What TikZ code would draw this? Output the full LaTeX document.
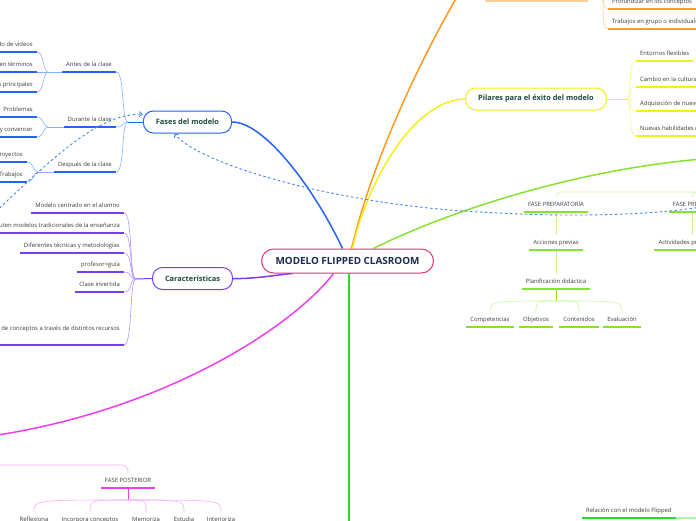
\documentclass[tikz,border=0pt]{standalone}
\usepackage{fontspec}
\setmainfont{Open Sans}
\usetikzlibrary{arrows.meta,positioning,backgrounds}

\definecolor{txtgray}{HTML}{3C3C3C}
\definecolor{topictxt}{HTML}{1D4B3C}
\definecolor{roottxt}{HTML}{1C2B4F}
\definecolor{rootline}{HTML}{E3336A}
\definecolor{fasesblue}{HTML}{2563F5}
\definecolor{fasesthin}{HTML}{8AAEFF}
\definecolor{carpurple}{HTML}{7A3CF0}
\definecolor{carthin}{HTML}{B494FF}
\definecolor{pilyellow}{HTML}{F0F020}
\definecolor{pilthin}{HTML}{F6F690}
\definecolor{orangeln}{HTML}{FF9A1E}
\definecolor{orangethin}{HTML}{FFCF96}
\definecolor{limeln}{HTML}{86E22E}
\definecolor{limethin}{HTML}{C9F3A4}
\definecolor{greenln}{HTML}{22E022}
\definecolor{greenthin}{HTML}{A8F5A8}
\definecolor{magln}{HTML}{EE3FEE}
\definecolor{magthin}{HTML}{F6ACF6}
\definecolor{dashblue}{HTML}{3F86F0}

\newcommand{\leaffont}{\fontsize{5.9}{7}\selectfont}

\begin{document}
\begin{tikzpicture}[x=1pt, y=-1pt,
    rootbox/.style={draw=rootline, fill=white, rounded corners=12pt, line width=1pt, minimum height=24pt, inner xsep=14pt, text=roottxt, font=\fontsize{9.9}{11}\selectfont\bfseries},
    topicbox/.style={draw=#1, fill=white, rounded corners=10pt, line width=1pt, minimum height=22pt, inner xsep=12.5pt, text=topictxt, font=\fontsize{7.4}{9}\selectfont\bfseries},
    leaf/.style={font=\leaffont, text=txtgray, inner xsep=4pt, inner ysep=4.3pt, text height=4.4pt, text depth=1.3pt,
        append after command={(\tikzlastnode.south west) edge[draw=#1, line width=1.7pt] (\tikzlastnode.south east)}},
    branch/.style={draw=#1, line width=1.5pt},
    conn/.style={draw=#1, line width=0.6pt},
    relation/.style={draw=dashblue, line width=0.9pt, dash pattern=on 2.5pt off 2.5pt, -{Straight Barb[length=3pt,width=5pt]}}]
    \useasboundingbox (0,0) rectangle (696,520);

    % Central topic
    \node[rootbox] (model) at (347.5,261) {MODELO FLIPPED CLASROOM};

    % Main topics
    \node[topicbox=fasesblue] (fases) at (187.5,122) {Fases del modelo};
    \node[topicbox=carpurple] (caract) at (192.5,278.5) {Características};
    \node[topicbox=pilyellow] (pilares) at (536,99) {Pilares para el éxito del modelo};

    % Topics outside the frame
    \coordinate (orangeT) at (470,-25);
    \coordinate (limeT) at (730,157);
    \coordinate (greenT) at (349,560);
    \coordinate (magT) at (-40,440);

    % Fases del modelo
    \node[leaf=fasesblue, anchor=south east] (antes) at (116,72) {Antes de la clase};
    \node[leaf=fasesblue, anchor=south east] (durante) at (116,127) {Durante la clase};
    \node[leaf=fasesblue, anchor=south east] (despues) at (116,172) {Después de la clase};
    \node[leaf=fasesblue, anchor=south east] (videos) at (37,52) {Visionado de videos};
    \node[leaf=fasesblue, anchor=south east] (terminos) at (37,72) {Investigación en términos};
    \node[leaf=fasesblue, anchor=south east] (ideas) at (37,92) {Ideas principales};
    \node[leaf=fasesblue, anchor=south east] (problemas) at (37,117) {Problemas};
    \node[leaf=fasesblue, anchor=south east] (convencer) at (37,137) {Argumentar y convencer};
    \node[leaf=fasesblue, anchor=south east] (proyectos) at (27,162) {Proyectos};
    \node[leaf=fasesblue, anchor=south east] (trabajos) at (27,182) {Trabajos};
    \coordinate (fasesJ) at (128,122);
    \coordinate (antesJ) at (48,72);
    \coordinate (duranteJ) at (48,127);
    \coordinate (despuesJ) at (38,172);

    % Caracteristicas
    \node[leaf=carpurple, anchor=south east] (car1) at (124,213) {Modelo centrado en el alumno};
    \node[leaf=carpurple, anchor=south east] (car2) at (124,233) {Se discuten modelos tradicionales de la enseñanza};
    \node[leaf=carpurple, anchor=south east] (car3) at (124,253) {Diferentes técnicas y metodologías};
    \node[leaf=carpurple, anchor=south east] (car4) at (124,272) {profesor=guía};
    \node[leaf=carpurple, anchor=south east] (car5) at (124,292) {Clase invertida};
    \node[leaf=carpurple, anchor=south east, text depth=12pt, inner ysep=2.5pt] (car6) at (124,345) {Adquisición de conceptos a través de distintos recursos};
    \coordinate (caractJ) at (136,279);

    % Pilares
    \node[leaf=pilyellow, anchor=south west] (pil1) at (636,61) {Entornos flexibles};
    \node[leaf=pilyellow, anchor=south west] (pil2) at (636,87) {Cambio en la cultura de aprendizaje};
    \node[leaf=pilyellow, anchor=south west] (pil3) at (636,111) {Adquisición de nuevos roles};
    \node[leaf=pilyellow, anchor=south west] (pil4) at (636,136) {Nuevas habilidades docentes};
    \coordinate (pilaresJ) at (626,99);

    % Orange branch
    \node[leaf=orangeln, anchor=south west] (prof) at (608,9) {Profundizar en los conceptos};
    \node[leaf=orangeln, anchor=south west] (grupo) at (608,29) {Trabajos en grupo o individuales};
    \coordinate (orangeJ) at (603,-15);
    \coordinate (orangeA) at (485,1);
    \coordinate (orangeB) at (588,1);

    % Lime branch
    \node[leaf=limeln, anchor=south] (fprep) at (556,212) {FASE PREPARATORIA};
    \node[leaf=limeln, anchor=south] (fpres) at (697,212) {FASE PRESENCIAL};
    \node[leaf=limeln, anchor=south] (acciones) at (556,250) {Acciones previas};
    \node[leaf=limeln, anchor=south] (activ) at (692,250) {Actividades presenciales};
    \node[leaf=limeln, anchor=south] (plan) at (556,289) {Planificación didáctica};
    \node[leaf=limeln, anchor=south] (compet) at (490,327) {Competencias};
    \node[leaf=limeln, anchor=south] (objet) at (536,327) {Objetivos};
    \node[leaf=limeln, anchor=south] (conten) at (579,327) {Contenidos};
    \node[leaf=limeln, anchor=south] (evalua) at (622,327) {Evaluación};
    \coordinate (limeJ) at (760,192);
    \coordinate (planJ) at (556,301);

    % Magenta branch
    \node[leaf=magln, anchor=south] (fpost) at (128,488) {FASE POSTERIOR};
    \node[leaf=magln, anchor=south] (reflex) at (34,527) {Reflexiona};
    \node[leaf=magln, anchor=south] (incorp) at (90,527) {Incorpora conceptos};
    \node[leaf=magln, anchor=south] (memor) at (146,527) {Memoriza};
    \node[leaf=magln, anchor=south] (estud) at (184,527) {Estudia};
    \node[leaf=magln, anchor=south] (interi) at (221,527) {Interioriza};
    \coordinate (magJ) at (-30,465);
    \coordinate (fpostJ) at (128,500);

    % Green branch
    \node[leaf=greenln, anchor=south west] (relacion) at (582,518) {Relación con el modelo Flipped};
    \coordinate (greenJ) at (720,518);

    \begin{pgfonlayer}{background}
        % main branches
        \draw[branch=fasesblue] ([xshift=-5pt]model.north) .. controls (315,190) and (265,122) .. (fases.east);
        \draw[branch=orangeln] ([xshift=4pt]model.north) .. controls (375,150) and (430,40) .. (orangeT);
        \draw[branch=pilyellow] ([xshift=5pt]model.north) .. controls (365,190) and (410,100) .. (pilares.west);
        \draw[branch=limeln] ([xshift=26pt]model.north) .. controls (440,215) and (580,165) .. (limeT);
        \draw[branch=greenln] ([xshift=1.5pt]model.south) -- (greenT);
        \draw[branch=magln] ([xshift=-14pt]model.south) .. controls (290,330) and (150,420) .. (magT);
        \draw[branch=carpurple] (caract.east) .. controls (255,279) and (275,275) .. ([xshift=-55pt]model.south);

        % fases connectors
        \draw[draw=fasesblue, line width=1pt] (fases.west) -- (fasesJ);
        \draw[conn=fasesthin] (fasesJ) .. controls +(-7,0) and +(9,0) .. (antes.south east);
        \draw[conn=fasesthin] (fasesJ) .. controls +(-7,0) and +(9,0) .. (durante.south east);
        \draw[conn=fasesthin] (fasesJ) .. controls +(-7,0) and +(9,0) .. (despues.south east);
        \draw[conn=fasesthin] (antes.south west) -- (antesJ);
        \draw[conn=fasesthin] (antesJ) .. controls +(-5,0) and +(7,0) .. (videos.south east);
        \draw[conn=fasesthin] (antesJ) -- (terminos.south east);
        \draw[conn=fasesthin] (antesJ) .. controls +(-5,0) and +(7,0) .. (ideas.south east);
        \draw[conn=fasesthin] (durante.south west) -- (duranteJ);
        \draw[conn=fasesthin] (duranteJ) .. controls +(-5,0) and +(7,0) .. (problemas.south east);
        \draw[conn=fasesthin] (duranteJ) .. controls +(-5,0) and +(7,0) .. (convencer.south east);
        \draw[conn=fasesthin] (despues.south west) -- (despuesJ);
        \draw[conn=fasesthin] (despuesJ) .. controls +(-5,0) and +(7,0) .. (proyectos.south east);
        \draw[conn=fasesthin] (despuesJ) .. controls +(-5,0) and +(7,0) .. (trabajos.south east);

        % caracteristicas connectors
        \draw[draw=carpurple, line width=1pt] (caract.west) -- (caractJ);
        \draw[conn=carthin] (caractJ) .. controls +(-7,0) and +(9,0) .. (car1.south east);
        \draw[conn=carthin] (caractJ) .. controls +(-7,0) and +(9,0) .. (car2.south east);
        \draw[conn=carthin] (caractJ) .. controls +(-7,0) and +(9,0) .. (car3.south east);
        \draw[conn=carthin] (caractJ) .. controls +(-7,0) and +(9,0) .. (car4.south east);
        \draw[conn=carthin] (caractJ) .. controls +(-7,0) and +(9,0) .. (car5.south east);
        \draw[conn=carthin] (caractJ) .. controls +(-7,0) and +(9,0) .. (car6.south east);

        % pilares connectors
        \draw[draw=pilyellow, line width=1pt] (pilares.east) -- (pilaresJ);
        \draw[conn=pilthin] (pilaresJ) .. controls +(7,0) and +(-9,0) .. (pil1.south west);
        \draw[conn=pilthin] (pilaresJ) .. controls +(7,0) and +(-9,0) .. (pil2.south west);
        \draw[conn=pilthin] (pilaresJ) .. controls +(7,0) and +(-9,0) .. (pil3.south west);
        \draw[conn=pilthin] (pilaresJ) .. controls +(7,0) and +(-9,0) .. (pil4.south west);

        % orange connectors
        \draw[draw=orangethin, line width=1.2pt] (orangeA) -- (orangeB);
        \draw[conn=orangethin] (orangeJ) .. controls +(0,15) and +(-5,0) .. (prof.south west);
        \draw[conn=orangethin] (orangeJ) .. controls +(0,35) and +(-5,0) .. (grupo.south west);

        % lime connectors
        \draw[conn=limethin, rounded corners=5pt] (limeJ) -| (fprep.north);
        \draw[conn=limethin, rounded corners=5pt] (limeJ) -| ([xshift=-5pt]fpres.north);
        \draw[conn=limethin] (fprep.south) -- (acciones.north);
        \draw[conn=limethin] ([xshift=-5pt]fpres.south) -- (activ.north);
        \draw[conn=limethin] (acciones.south) -- (plan.north);
        \draw[draw=limeln, line width=1pt] (plan.south) -- (planJ);
        \draw[conn=limethin] (planJ) .. controls (compet.north |- planJ) .. (compet.north);
        \draw[conn=limethin] (planJ) .. controls (objet.north |- planJ) .. (objet.north);
        \draw[conn=limethin] (planJ) .. controls (conten.north |- planJ) .. (conten.north);
        \draw[conn=limethin] (planJ) .. controls (evalua.north |- planJ) .. (evalua.north);

        % magenta connectors
        \draw[conn=magthin, rounded corners=6pt] (magJ) -| (fpost.north);
        \draw[draw=magln, line width=1pt] (fpost.south) -- (fpostJ);
        \draw[conn=magthin] (fpostJ) .. controls (reflex.north |- fpostJ) .. (reflex.north);
        \draw[conn=magthin] (fpostJ) .. controls (incorp.north |- fpostJ) .. (incorp.north);
        \draw[conn=magthin] (fpostJ) .. controls (memor.north |- fpostJ) .. (memor.north);
        \draw[conn=magthin] (fpostJ) .. controls (estud.north |- fpostJ) .. (estud.north);
        \draw[conn=magthin] (fpostJ) .. controls (interi.north |- fpostJ) .. (interi.north);

        % green connectors
        \draw[draw=greenthin, line width=1.7pt] (relacion.south east) -- (greenJ);
    \end{pgfonlayer}

    % Relations
    \coordinate (dashsrc) at (-15,222);
    \draw[relation] ([yshift=-3pt]fpres.center) .. controls (640,216) and (560,217) .. (480,212) .. controls (340,205) and (200,165) .. (fases.221);
    \draw[relation] (dashsrc) .. controls (60,150) and (100,114) .. (fases.170);
\end{tikzpicture}
\end{document}
